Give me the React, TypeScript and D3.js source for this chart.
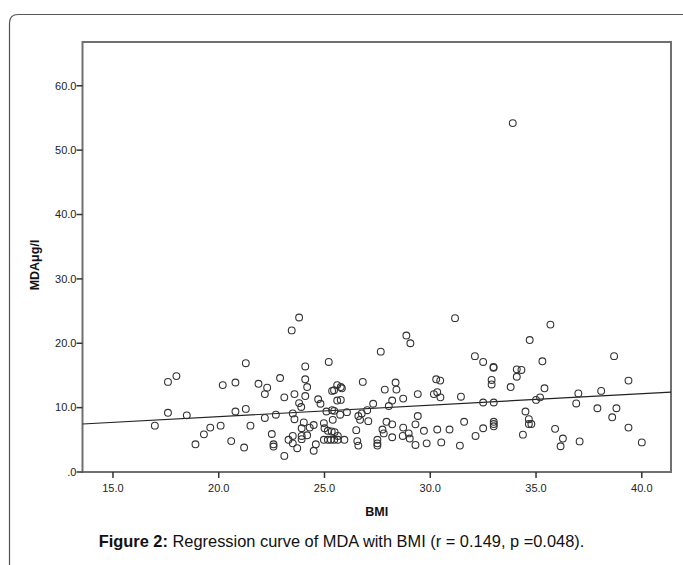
import React from 'react';
import * as d3 from 'd3';

const width = 683;
const height = 565;
const box = { left: 82.5, top: 42, right: 671, bottom: 472 };
const font = "Arial, 'Liberation Sans', sans-serif";

// BMI / MDA pairs
const bmi = [
  16.98, 17.6, 18.0, 17.6, 18.49, 18.9, 19.3, 19.6, 20.09, 20.19, 20.79, 20.79, 21.28, 21.28, 20.59, 21.2, 21.5, 21.88,
  22.29, 22.18, 22.9, 23.1, 23.58, 22.18, 22.7, 23.5, 23.58, 22.51, 22.59, 22.59, 23.1, 23.3, 23.5, 23.5, 23.71, 23.8,
  23.45, 24.09, 24.09, 24.18, 24.09, 23.8, 23.9, 23.92, 24.02, 24.3, 24.49, 23.92, 23.92, 24.18, 24.59, 24.49, 24.7, 24.81,
  25.2, 25.36, 25.45, 25.6, 25.77, 25.82, 25.6, 25.77, 25.09, 25.36, 25.46, 25.74, 26.06, 24.97, 25.0, 25.39, 25.16, 25.34,
  25.48, 25.63, 24.97, 25.16, 25.3, 25.46, 25.63, 25.94,
  26.5, 26.55, 26.6, 26.6, 26.68, 26.76, 27.07, 26.81, 27.3, 27.02, 27.5, 27.5, 27.5, 27.74, 27.93, 27.85, 28.36, 28.4,
  28.2, 28.04, 28.72, 28.2, 27.8, 28.2, 28.72, 28.7, 28.98, 29.03, 29.3, 29.3, 29.41, 29.41, 29.7, 29.83, 27.66, 28.87, 29.06,
  30.17, 30.33, 30.48, 30.33, 30.52, 30.91, 31.4, 31.45, 31.17, 32.11, 32.5, 32.99, 32.99, 32.9, 32.9, 30.28, 30.47, 32.5,
  33.0, 31.6, 32.5, 33.0, 33.0, 33.0, 32.14, 33.9,
  34.7, 34.09, 34.31, 34.09, 33.8, 34.5, 34.66, 34.66, 34.78, 34.38, 35.68, 38.69, 35.3, 39.37, 35.4, 38.08, 37.0, 35.19,
  35.0, 36.9, 37.9, 38.8, 38.6, 35.9, 39.37, 36.27, 36.16, 37.06, 40.0,
];
const mda = [
  7.2, 14.0, 14.9, 9.2, 8.8, 4.3, 5.85, 6.9, 7.2, 13.5, 13.9, 9.4, 9.8, 16.9, 4.8, 3.8, 7.2, 13.7,
  13.1, 12.1, 14.6, 11.6, 12.1, 8.4, 8.9, 9.1, 8.2, 5.9, 4.3, 3.95, 2.5, 5.0, 5.6, 4.45, 3.7, 24.0,
  22.0, 16.4, 14.4, 13.2, 11.8, 10.7, 10.1, 6.8, 7.7, 6.9, 7.3, 5.6, 5.1, 5.7, 4.3, 3.3, 11.3, 10.6,
  17.1, 12.6, 12.7, 13.5, 13.2, 13.0, 11.1, 11.2, 9.4, 9.6, 9.5, 8.9, 9.3, 7.6, 6.8, 8.1, 6.4, 6.3,
  6.2, 5.6, 5.0, 5.0, 5.0, 5.0, 5.0, 5.0,
  6.5, 4.8, 4.1, 8.7, 8.1, 9.1, 7.9, 14.0, 10.6, 9.6, 5.0, 4.45, 4.1, 6.6, 7.8, 12.8, 13.9, 12.8,
  11.1, 10.25, 11.4, 7.4, 6.0, 5.4, 6.9, 5.6, 6.0, 5.2, 4.2, 7.4, 8.7, 12.1, 6.4, 4.45, 18.7, 21.2, 20.0,
  12.1, 12.4, 11.6, 6.6, 4.6, 6.6, 4.1, 11.7, 23.9, 18.0, 17.1, 16.3, 16.2, 14.3, 13.6, 14.4, 14.2, 10.8,
  10.8, 7.8, 6.8, 7.8, 7.45, 7.1, 5.6, 54.2,
  20.5, 15.95, 15.85, 14.8, 13.2, 9.4, 8.2, 7.45, 7.45, 5.8, 22.9, 18.0, 17.2, 14.2, 13.0, 12.6, 12.2, 11.6,
  11.2, 10.65, 9.9, 9.9, 8.5, 6.7, 6.9, 5.2, 4.0, 4.75, 4.6,
];

const xTicks = [15, 20, 25, 30, 35, 40];
const yTicks = [0, 10, 20, 30, 40, 50, 60];
const xDomain = [13.56, 41.38];
const yDomain = [0, 66.8];
// fitted line MDA = a + b * BMI
const fitIntercept = 5.04;
const fitSlope = 0.178;

const fmt = (v: number) => (v === 0 ? '.0' : v.toFixed(1));

export default function App() {
  const x = d3.scaleLinear().domain(xDomain).range([box.left, box.right]);
  const y = d3.scaleLinear().domain(yDomain).range([box.bottom, box.top]);

  const points = bmi.map((b, i) => ({ b, m: mda[i] }));
  const fitLine = d3.line<number>()
    .x(d => x(d))
    .y(d => y(fitIntercept + fitSlope * d));

  return (
    <svg width={width} height={height} style={{ position: 'absolute', left: 0, top: 0, background: '#fff' }}>
      {/* outer figure frame */}
      <path d="M9.5,565 L9.5,23 Q9.5,14.5 18,14.5 L683,14.5" fill="none" stroke="#555" strokeWidth={1.2} />

      {/* plot box */}
      <rect x={box.left} y={box.top} width={box.right - box.left} height={box.bottom - box.top}
        fill="#fff" stroke="#707070" strokeWidth={2} />

      {/* y axis */}
      {yTicks.map(t => (
        <g key={t}>
          <line x1={box.left - 6} x2={box.left} y1={y(t)} y2={y(t)} stroke="#333" strokeWidth={1.5} />
          <text x={box.left - 6} y={y(t)} dy="0.35em" textAnchor="end" fontFamily={font} fontSize={11} fill="#222">
            {fmt(t)}
          </text>
        </g>
      ))}

      {/* x axis */}
      {xTicks.map(t => (
        <g key={t}>
          <line x1={x(t)} x2={x(t)} y1={box.bottom} y2={box.bottom + 6} stroke="#333" strokeWidth={1.5} />
          <text x={x(t)} y={box.bottom + 20} textAnchor="middle" fontFamily={font} fontSize={11} fill="#222">
            {fmt(t)}
          </text>
        </g>
      ))}

      {/* regression line */}
      <path d={fitLine(xDomain) || ''} fill="none" stroke="#222" strokeWidth={1.2} />

      {/* points */}
      {points.map((p, i) => (
        <circle key={i} cx={x(p.b)} cy={y(p.m)} r={3.4} fill="none" stroke="#333" strokeWidth={1.1} />
      ))}

      {/* axis titles */}
      <text x={(box.left + box.right) / 2} y={516} textAnchor="middle" fontFamily={font} fontSize={12.5}
        fontWeight="bold" fill="#111">BMI</text>
      <text transform={`translate(39, 265) rotate(-90)`} textAnchor="middle" fontFamily={font} fontSize={12.5}
        fontWeight="bold" fill="#111">MDAμg/l</text>

      {/* caption */}
      <text x={341.5} y={547} textAnchor="middle" fontFamily={font} fontSize={16.4} fill="#111">
        <tspan fontWeight="bold">Figure 2:</tspan> Regression curve of MDA with BMI (r = 0.149, p =0.048).
      </text>
    </svg>
  );
}
